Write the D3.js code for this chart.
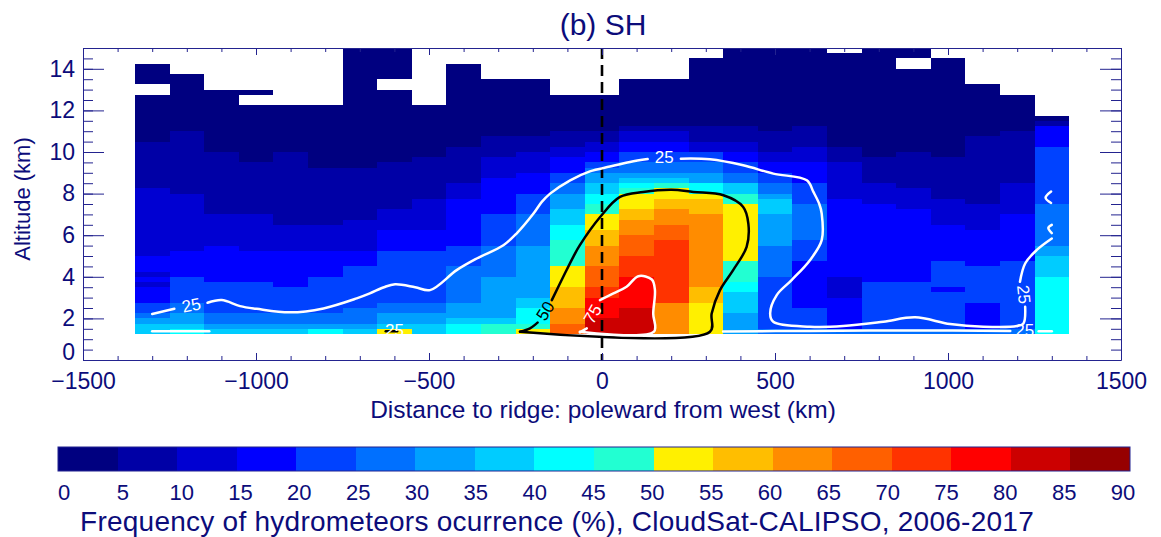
<!DOCTYPE html>
<html>
<head>
<meta charset="utf-8">
<script src="https://cdn.jsdelivr.net/npm/d3@7"></script>
<style>
  body { margin: 0; background: #fff; }
  text { font-family: "Liberation Sans", Arial, Helvetica, sans-serif; }
</style>
</head>
<body>
<svg id="chart" width="1161" height="537"></svg>
<script>
// column centres (km from ridge), each bin is 100 km wide
const distances = [-1300, -1200, -1100, -1000, -900, -800, -700, -600, -500, -400, -300, -200, -100,
  0, 100, 200, 300, 400, 500, 600, 700, 800, 900, 1000, 1100, 1200, 1300];

// each profile: runs of [top altitude km, frequency %] going up from 1.25 km, null = no data
const profiles = [
  [[1.75,37],[2,32],[2.25,27],[2.75,22],[3.5,17],[3.75,12],[4,17],[4.25,12],[5,17],[8.25,12],[10.5,7],[12.75,2],[13.25,null],[14.25,2]],
  [[1.5,42],[1.75,37],[2.25,32],[2.75,27],[4,22],[5.25,17],[8,12],[11,7],[13.75,2]],
  [[1.5,37],[1.75,32],[2.25,27],[3.75,22],[5.5,17],[7,12],[10,7],[13,2]],
  [[1.5,37],[1.75,32],[2.25,27],[3.75,22],[5.25,17],[7,12],[9.5,7],[12.25,2],[12.75,null],[13,2]],
  [[1.5,37],[1.75,32],[2.25,27],[3.5,22],[5.25,17],[6.5,12],[10,7],[12.25,2]],
  [[1.5,42],[1.75,32],[2.25,27],[4,22],[5.25,17],[6.5,12],[9.25,7],[12.25,2]],
  [[1.5,37],[1.75,32],[2.5,27],[4.5,22],[5.25,17],[6.75,12],[9.25,7],[15,2]],
  [[1.5,52],[1.75,37],[2.25,32],[2.75,27],[5.25,22],[6.25,17],[7.25,12],[9.5,7],[13,2],[13.5,null],[15,2]],
  [[1.75,37],[2.25,32],[2.75,27],[5.25,22],[6.25,17],[7.75,12],[9.75,7],[12.25,2]],
  [[1.75,42],[2,37],[2.75,32],[4.5,27],[5.5,22],[7.75,17],[8.5,12],[10.25,7],[14.25,2]],
  [[1.75,47],[2,37],[4,32],[5.5,27],[7,22],[8.75,17],[9.75,12],[10.75,7],[13.5,2]],
  [[1.5,52],[1.75,47],[2.5,42],[3,37],[5.5,32],[7,27],[8,22],[9,17],[10,12],[10.75,7],[13.5,2]],
  [[1.75,67],[2.5,62],[3.5,57],[4.5,52],[5.75,47],[6.5,42],[7.25,37],[8,32],[8.5,27],[9,22],[9.75,17],[10.25,12],[11,7],[12.75,2]],
  [[2,82],[3,77],[3.5,72],[4.5,67],[5.5,62],[6.25,57],[7,52],[7.5,47],[8,42],[8.5,37],[9,32],[9.25,27],[9.5,22],[10,17],[10.5,12],[11,7],[12.75,2]],
  [[2.5,82],[4,77],[5,72],[6,67],[6.75,62],[7.25,57],[8,52],[8.25,47],[8.5,42],[8.75,37],[9,32],[9.5,27],[10,22],[10.5,17],[11,12],[11.25,7],[13.5,2]],
  [[2.75,62],[5.75,72],[6.5,67],[7.25,62],[7.75,57],[8.25,52],[8.5,47],[8.75,37],[9,32],[9.5,27],[10,22],[10.5,17],[11,12],[11.25,7],[13.5,2]],
  [[2.75,52],[3.5,57],[7,62],[7.75,57],[8,52],[8.5,42],[9,32],[9.5,27],[10,22],[10.5,12],[11.25,7],[14.5,2]],
  [[2.25,32],[3.25,37],[3.75,42],[4.75,47],[7.5,52],[8,47],[8.5,37],[9,27],[9.5,22],[10,17],[10.5,12],[11.25,7],[15,2]],
  [[1.5,27],[4,22],[5.5,27],[7,32],[7.75,37],[8,32],[8.5,27],[9,22],[9.5,17],[10,12],[11,7],[15,2]],
  [[1.5,27],[2.5,22],[4.75,17],[5.75,22],[7.5,27],[8.5,22],[9.5,17],[10.25,12],[11.25,7],[15,2]],
  [[1.5,27],[3,17],[4,12],[7.75,17],[9.5,12],[10.25,7],[14.75,2]],
  [[1.5,27],[3.75,22],[7.5,17],[8.5,12],[9.75,7],[15,2]],
  [[1.5,27],[3.75,22],[7.25,17],[8.25,12],[10,7],[14,2],[14.5,null],[15,2]],
  [[1.5,27],[3.25,22],[3.5,17],[4.75,22],[6.5,17],[7.75,12],[9.75,7],[14.5,2]],
  [[1.5,27],[2.75,17],[4.5,22],[6.25,17],[7.5,12],[10.75,7],[13.25,2]],
  [[1.5,27],[4.75,22],[7,17],[8.5,12],[11,7],[12.75,2]],
  [[4,42],[5,37],[5.5,32],[7.5,27],[10.25,22],[11.25,17],[11.5,7],[11.75,2]]
];

// colour levels of the bar (%)
const levels = [0, 5, 10, 15, 20, 25, 30, 35, 40, 45, 50, 55, 60, 65, 70, 75, 80, 85];
const levelColors = ["#000080", "#0000a6", "#0000d2", "#0000ff", "#0042ff", "#0070ff", "#00a0ff", "#00ccff",
  "#00ffff", "#22ffd2", "#fff000", "#ffbe00", "#ff8c00", "#ff6000", "#ff3300", "#ff0000", "#cc0000", "#960000"];
const barTicks = [0, 5, 10, 15, 20, 25, 30, 35, 40, 45, 50, 55, 60, 65, 70, 75, 80, 85, 90];
const xTicks = [-1500, -1000, -500, 0, 500, 1000, 1500];
const yTicks = [0, 2, 4, 6, 8, 10, 12, 14];

// contour lines, [km, altitude km]
const c25 = [
  [[-1300,2.21],[-1236,2.46]],
  [[-1140,2.75],[-1099,2.88],[-1046,2.59],[-998,2.46],[-902,2.29],[-805,2.48],[-709,2.96],[-671,3.2],[-630,3.5],[-598,3.64],
   [-540,3.5],[-497,3.36],[-420,4.32],[-362,4.88],[-285,5.52],[-247,6.08],[-198,7.04],[-174,7.6],[-150,8.0],[-92,8.64],
   [-35,9.07],[23,9.3],[81,9.52],[132,9.66]],
  [[228,9.68],[312,9.65],[408,9.36],[495,8.96],[592,8.64],[611,8.08],[628,7.5],[635,7.04],[635,5.76],[601,4.8],
   [548,3.84],[505,3.12],[486,2.24],[495,1.84],[601,1.6],[697,1.63],[813,1.84],[905,2.05],[1006,1.73],[1102,1.6],
   [1199,1.63],[1218,1.76],[1223,2.56]],
  [[1208,3.76],[1223,4.64],[1256,5.28],[1300,5.84]],
  [[1300,6.1],[1290,6.35],[1300,6.5]],
  [[1298,8.1],[1282,7.8],[1298,7.55]],
  [[-1300,1.38],[-1135,1.38]],
  [[350,1.37],[600,1.4],[900,1.42],[1180,1.4]],
  [[1262,1.38],[1300,1.38]]
];
const c50 = [
  [[-237,1.36],[-208,1.52],[-186,1.8]],
  [[-145,2.88],[-112,4.0],[-83,4.96],[-64,5.52],[-6,6.86],[52,7.84],[119,8.08],[201,8.19],[264,8.08],[351,7.92],
   [408,7.36],[423,6.56],[418,5.44],[379,4.32],[341,3.36],[317,2.24],[312,1.36],[-237,1.36]],
  [[-625,1.38],[-592,1.38]]
];
const c75 = [
  [[-64,1.33],[-44,1.52]],
  [[-6,2.88],[33,3.2],[71,3.52],[105,4.03],[144,3.87],[153,3.36],[148,2.24],[150,1.36],[-64,1.36]]
];
const contourLabels = [
  {text: "25", km: -1187, alt: 2.62, rot: -12, color: "#fff"},
  {text: "25", km: 180, alt: 9.72, rot: 0, color: "#fff"},
  {text: "25", km: 1218, alt: 3.15, rot: 84, color: "#fff"},
  {text: "25", km: 1222, alt: 1.42, rot: 0, color: "#fff"},
  {text: "25", km: -600, alt: 1.42, rot: 0, color: "#fff"},
  {text: "50", km: -163, alt: 2.35, rot: -58, color: "#000"},
  {text: "75", km: -26, alt: 2.2, rot: -60, color: "#fff"}
];

const navy = "#0c0c7a";
const axisColor = "#23238f";

const svg = d3.select("#chart");
const x = d3.scaleLinear().domain([-1500, 1500]).range([83, 1121]);
const y = d3.scaleLinear().domain([0, 15]).range([360, 48]);
const color = d3.scaleThreshold().domain(levels.slice(1)).range(levelColors);

// cells
const cells = [];
profiles.forEach((runs, i) => {
  let base = 1.25;
  runs.forEach(([top, v]) => {
    if (v !== null) cells.push({d: distances[i], lo: base, hi: top, v: v});
    base = top;
  });
});
svg.append("g").attr("shape-rendering", "crispEdges")
  .selectAll("rect").data(cells).enter().append("rect")
  .attr("x", d => x(d.d - 50))
  .attr("width", d => x(d.d + 50) - x(d.d - 50))
  .attr("y", d => y(d.hi))
  .attr("height", d => y(d.lo) - y(d.hi))
  .attr("fill", d => color(d.v));

// ridge line
svg.append("line")
  .attr("x1", x(0)).attr("x2", x(0)).attr("y1", y(15)).attr("y2", y(0))
  .attr("stroke", "#000").attr("stroke-width", 2.6).attr("stroke-dasharray", "11,6");

// contours
const line = d3.line().x(d => x(d[0])).y(d => y(d[1])).curve(d3.curveCatmullRom.alpha(0.5));
function drawContours(segs, stroke) {
  svg.append("g").selectAll("path").data(segs).enter().append("path")
    .attr("d", line).attr("fill", "none").attr("stroke", stroke)
    .attr("stroke-width", 2.5).attr("stroke-linejoin", "round").attr("stroke-linecap", "round");
}
drawContours(c25, "#fff");
drawContours(c50, "#000");
drawContours(c75, "#fff");

svg.append("g").selectAll("text").data(contourLabels).enter().append("text")
  .attr("transform", d => `translate(${x(d.km)},${y(d.alt)}) rotate(${d.rot})`)
  .attr("text-anchor", "middle").attr("dominant-baseline", "central")
  .style("font-size", "17px").attr("fill", d => d.color)
  .text(d => d.text);

// axes
function styleAxis(g) {
  g.selectAll("path, line").attr("stroke", axisColor).attr("stroke-width", 1);
  g.selectAll("text").attr("fill", navy).style("font-size", "23px")
    .style("font-family", '"Liberation Sans", Arial, sans-serif');
}
svg.append("g").attr("transform", "translate(0,360)")
  .call(d3.axisBottom(x).tickValues(xTicks).tickFormat(d3.format("d")).tickSize(-7).tickSizeOuter(0).tickPadding(13))
  .call(styleAxis);
svg.append("g").attr("transform", "translate(0,360)")
  .call(d3.axisBottom(x).ticks(30).tickSize(-4).tickFormat(""))
  .call(g => g.select(".domain").remove()).call(styleAxis);
svg.append("g").attr("transform", "translate(0,48)")
  .call(d3.axisTop(x).tickValues(xTicks).tickSize(-7).tickSizeOuter(0).tickFormat(""))
  .call(styleAxis);
svg.append("g").attr("transform", "translate(0,48)")
  .call(d3.axisTop(x).ticks(30).tickSize(-4).tickFormat(""))
  .call(g => g.select(".domain").remove()).call(styleAxis);

const yLeft = svg.append("g").attr("transform", "translate(83,0)")
  .call(d3.axisLeft(y).tickValues(yTicks).tickSize(-21).tickSizeOuter(0).tickPadding(8))
  .call(styleAxis);
yLeft.selectAll(".tick text").filter(d => d === 0).attr("y", -8);
svg.append("g").attr("transform", "translate(83,0)")
  .call(d3.axisLeft(y).ticks(30).tickSize(-10).tickFormat(""))
  .call(g => g.select(".domain").remove()).call(styleAxis);
svg.append("g").attr("transform", "translate(1121,0)")
  .call(d3.axisRight(y).tickValues(yTicks).tickSize(-21).tickSizeOuter(0).tickFormat(""))
  .call(styleAxis);
svg.append("g").attr("transform", "translate(1121,0)")
  .call(d3.axisRight(y).ticks(30).tickSize(-10).tickFormat(""))
  .call(g => g.select(".domain").remove()).call(styleAxis);

// titles
svg.append("text").attr("x", 603).attr("y", 35).attr("text-anchor", "middle")
  .attr("fill", navy).style("font-size", "30px").text("(b) SH");
svg.append("text").attr("x", 603).attr("y", 418).attr("text-anchor", "middle")
  .attr("fill", navy).style("font-size", "24.5px").text("Distance to ridge: poleward from west (km)");
svg.append("text").attr("transform", "translate(30,199) rotate(-90)").attr("text-anchor", "middle")
  .attr("fill", navy).style("font-size", "22px").text("Altitude (km)");

// colour bar
const cb = d3.scaleLinear().domain([0, 90]).range([58, 1130]);
const cbLabel = d3.scaleLinear().domain([0, 90]).range([64, 1123]);
svg.append("g").attr("shape-rendering", "crispEdges")
  .selectAll("rect").data(levels).enter().append("rect")
  .attr("x", d => cb(d)).attr("width", d => cb(d + 5) - cb(d))
  .attr("y", 447).attr("height", 24)
  .attr("fill", d => levelColors[levels.indexOf(d)]);
svg.append("rect").attr("x", cb(0)).attr("y", 447).attr("width", cb(90) - cb(0)).attr("height", 24)
  .attr("fill", "none").attr("stroke", axisColor).attr("stroke-width", 1);
svg.append("g").selectAll("text").data(barTicks).enter().append("text")
  .attr("x", d => cbLabel(d)).attr("y", 500).attr("text-anchor", "middle")
  .attr("fill", navy).style("font-size", "22px").text(d => d);
svg.append("text").attr("x", 557).attr("y", 531).attr("text-anchor", "middle")
  .attr("fill", navy).style("font-size", "28px").style("letter-spacing", "0.25px")
  .text("Frequency of hydrometeors ocurrence (%), CloudSat-CALIPSO, 2006-2017");
</script>
</body>
</html>
